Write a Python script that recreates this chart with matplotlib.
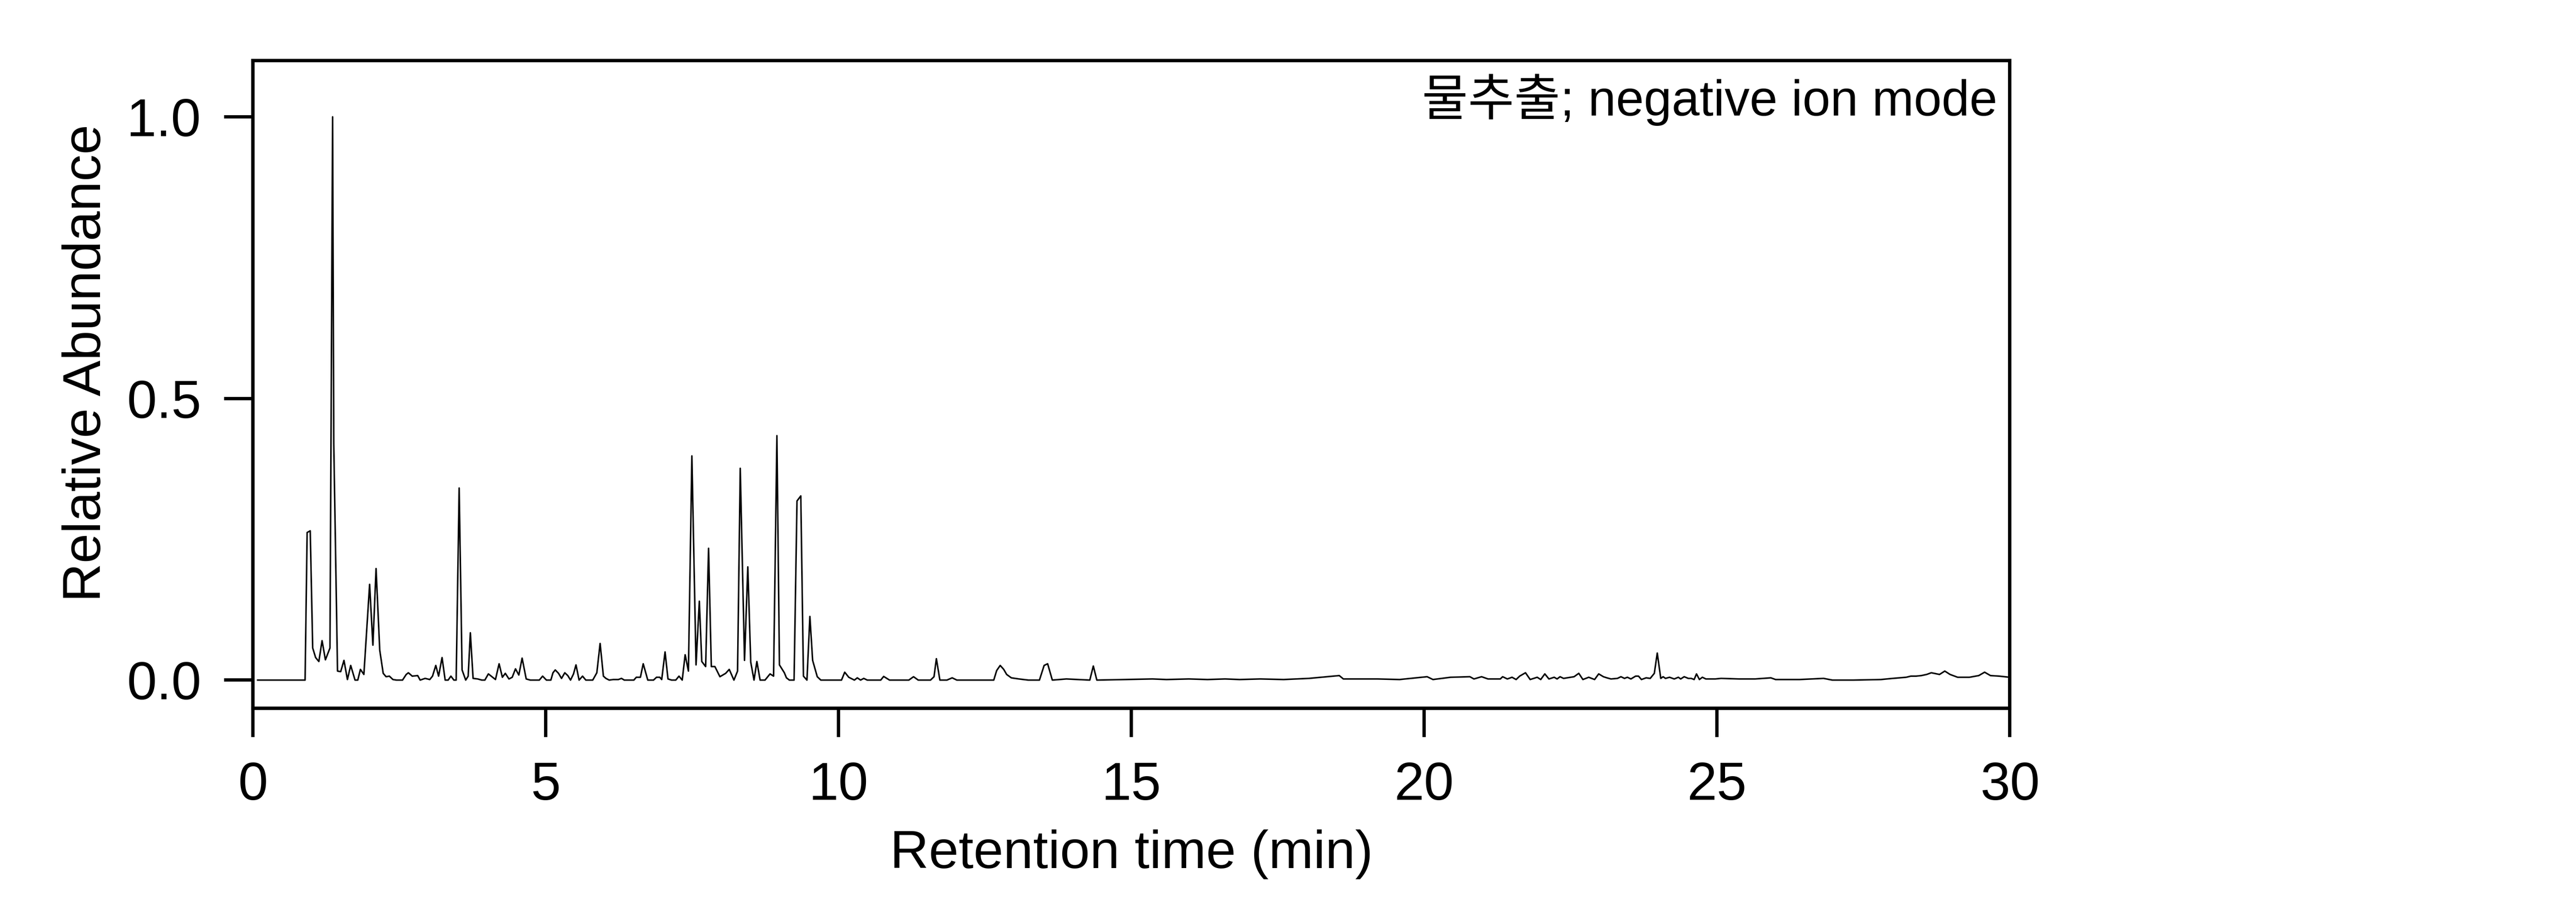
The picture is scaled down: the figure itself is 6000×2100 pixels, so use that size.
import matplotlib
matplotlib.use("Agg")
import matplotlib.pyplot as plt

plt.rcParams['font.family'] = ['Liberation Sans', 'Noto Sans CJK KR', 'DejaVu Sans']

# retention time (min) and relative abundance
rt = [
    0.08, 0.87, 0.89, 0.925, 0.978, 1.02, 1.07, 1.125, 1.18, 1.237,
    1.315, 1.36, 1.38, 1.444, 1.498, 1.554, 1.613, 1.669, 1.743, 1.79,
    1.835, 1.894, 1.992, 2.048, 2.102, 2.165, 2.224, 2.273, 2.329, 2.39,
    2.45, 2.554, 2.617, 2.654, 2.72, 2.813, 2.855, 2.94, 3.019, 3.066,
    3.122, 3.17, 3.229, 3.282, 3.333, 3.38, 3.431, 3.47, 3.521, 3.571,
    3.633, 3.675, 3.712, 3.759, 3.838, 3.908, 3.96, 4.02, 4.141, 4.203,
    4.259, 4.309, 4.371, 4.427, 4.483, 4.54, 4.596, 4.666, 4.736, 4.89,
    4.946, 5.011, 5.087, 5.123, 5.162, 5.218, 5.269, 5.325, 5.376, 5.423,
    5.474, 5.516, 5.569, 5.628, 5.684, 5.802, 5.872, 5.928, 5.984, 6.027,
    6.083, 6.153, 6.24, 6.293, 6.341, 6.504, 6.546, 6.616, 6.664, 6.742,
    6.84, 6.891, 6.947, 6.98, 7.037, 7.087, 7.149, 7.22, 7.275, 7.33,
    7.38, 7.436, 7.495, 7.566, 7.622, 7.664, 7.73, 7.78, 7.827, 7.888,
    7.974, 8.072, 8.133, 8.213, 8.275, 8.321, 8.394, 8.45, 8.50, 8.556,
    8.605, 8.66, 8.744, 8.83, 8.89, 8.947, 8.99, 9.074, 9.11, 9.16,
    9.24, 9.29, 9.355, 9.40, 9.46, 9.51, 9.557, 9.636, 9.697, 10.05,
    10.105, 10.174, 10.27, 10.32, 10.376, 10.43, 10.49, 10.72, 10.77, 10.87,
    11.2, 11.28, 11.36, 11.57, 11.63, 11.67, 11.73, 11.85, 11.94, 12.02,
    12.65, 12.70, 12.76, 12.82, 12.87, 12.95, 13.08, 13.24, 13.43, 13.51,
    13.57, 13.65, 13.89, 14.29, 14.35, 14.41, 14.9, 15.36, 15.6, 15.98,
    16.3, 16.6, 16.85, 17.2, 17.6, 18.03, 18.55, 18.62, 19.2, 19.58,
    20.05, 20.15, 20.45, 20.78, 20.85, 20.98, 21.09, 21.3, 21.34, 21.42,
    21.50, 21.57, 21.63, 21.73, 21.81, 21.93, 21.99, 22.06, 22.13, 22.22,
    22.27, 22.32, 22.38, 22.56, 22.64, 22.71, 22.81, 22.91, 22.98, 23.06,
    23.12, 23.19, 23.30, 23.36, 23.42, 23.47, 23.53, 23.61, 23.66, 23.71,
    23.79, 23.86, 23.93, 23.98, 24.04, 24.08, 24.12, 24.19, 24.27, 24.34,
    24.38, 24.44, 24.51, 24.56, 24.61, 24.65, 24.70, 24.75, 24.81, 24.97,
    25.07, 25.38, 25.65, 25.92, 26.0, 26.41, 26.82, 26.97, 27.33, 27.80,
    28.0, 28.23, 28.31, 28.40, 28.49, 28.58, 28.66, 28.80, 28.89, 28.98,
    29.11, 29.31, 29.47, 29.57, 29.67, 29.82, 30.0,
]
abundance = [
    0.0, 0.0, 0.0, 0.262, 0.265, 0.057, 0.040, 0.033, 0.070, 0.036,
    0.057, 1.0, 0.42, 0.016, 0.015, 0.035, 0.001, 0.026, 0.0, 0.0,
    0.019, 0.010, 0.170, 0.062, 0.198, 0.053, 0.012, 0.006, 0.007, 0.001,
    0.0, 0.0, 0.010, 0.013, 0.007, 0.008, 0.0, 0.003, 0.001, 0.007,
    0.026, 0.007, 0.040, 0.0, 0.0, 0.007, 0.0, 0.0, 0.341, 0.018,
    0.0, 0.007, 0.084, 0.003, 0.002, 0.0, 0.0, 0.011, 0.001, 0.029,
    0.005, 0.012, 0.002, 0.005, 0.020, 0.009, 0.039, 0.002, 0.0, 0.0,
    0.007, 0.0, 0.0, 0.013, 0.018, 0.012, 0.003, 0.013, 0.008, 0.0,
    0.011, 0.027, 0.0, 0.007, 0.0, 0.0, 0.013, 0.065, 0.007, 0.003,
    0.0, 0.001, 0.001, 0.003, 0.0, 0.0, 0.005, 0.005, 0.029, 0.0,
    0.0, 0.005, 0.005, 0.001, 0.050, 0.002, 0.0, 0.0, 0.007, 0.0,
    0.045, 0.016, 0.398, 0.027, 0.140, 0.033, 0.024, 0.234, 0.024, 0.024,
    0.006, 0.012, 0.019, 0.0, 0.016, 0.376, 0.035, 0.201, 0.032, 0.0,
    0.033, 0.0, 0.0, 0.011, 0.007, 0.434, 0.027, 0.013, 0.004, 0.0,
    0.0, 0.318, 0.327, 0.007, 0.0, 0.113, 0.035, 0.006, 0.0, 0.0,
    0.014, 0.005, 0.0, 0.004, 0.0, 0.003, 0.0, 0.0, 0.0065, 0.0,
    0.0, 0.006, 0.0, 0.0, 0.006, 0.038, 0.0, 0.0, 0.004, 0.0,
    0.0, 0.017, 0.026, 0.019, 0.010, 0.004, 0.002, 0.0, 0.0, 0.026,
    0.029, 0.0, 0.002, 0.0, 0.025, 0.0, 0.001, 0.002, 0.001, 0.002,
    0.001, 0.002, 0.001, 0.002, 0.001, 0.003, 0.008, 0.002, 0.002, 0.001,
    0.006, 0.001, 0.005, 0.006, 0.002, 0.006, 0.002, 0.002, 0.006, 0.002,
    0.005, 0.001, 0.007, 0.013, 0.001, 0.005, 0.001, 0.011, 0.002, 0.005,
    0.002, 0.006, 0.003, 0.006, 0.012, 0.001, 0.005, 0.001, 0.011, 0.006,
    0.004, 0.002, 0.003, 0.006, 0.003, 0.005, 0.002, 0.007, 0.007, 0.001,
    0.004, 0.003, 0.012, 0.048, 0.003, 0.006, 0.003, 0.005, 0.002, 0.005,
    0.002, 0.006, 0.003, 0.003, 0.001, 0.011, 0.001, 0.005, 0.002, 0.002,
    0.003, 0.002, 0.002, 0.004, 0.001, 0.001, 0.003, 0.0, 0.0, 0.001,
    0.003, 0.005, 0.007, 0.007, 0.008, 0.010, 0.013, 0.010, 0.016, 0.010,
    0.005, 0.005, 0.008, 0.014, 0.008, 0.007, 0.005,
]

x_ticks = [0, 5, 10, 15, 20, 25, 30]
y_ticks = [0.0, 0.5, 1.0]
y_tick_labels = ['0.0', '0.5', '1.0']
label_text = '물추출; negative ion mode'

fig = plt.figure(figsize=(20, 7), dpi=300)
ax = fig.add_axes([0.0982, 0.2148, 0.682, 0.7181])

ax.plot(rt, abundance, color='black', linewidth=0.85)

ax.set_xlim(0, 30)
ax.set_ylim(-0.05, 1.1)
ax.set_xticks(x_ticks)
ax.set_yticks(y_ticks)
ax.set_yticklabels(y_tick_labels)

for sp in ax.spines.values():
    sp.set_linewidth(1.9)
ax.tick_params(axis='both', direction='out', length=16, width=1.85, labelsize=30)
ax.tick_params(axis='x', pad=13.5)
ax.tick_params(axis='y', pad=13)

ax.set_xlabel('Retention time (min)', fontsize=30)
ax.set_ylabel('Relative Abundance', fontsize=30)
ax.xaxis.set_label_coords(0.5, -0.187)
ax.yaxis.set_label_coords(-0.0804, 0.533)

ax.text(0.9929, 0.9151, label_text, transform=ax.transAxes,
        ha='right', va='baseline', fontsize=28)

fig.savefig('out.png', dpi=300)
